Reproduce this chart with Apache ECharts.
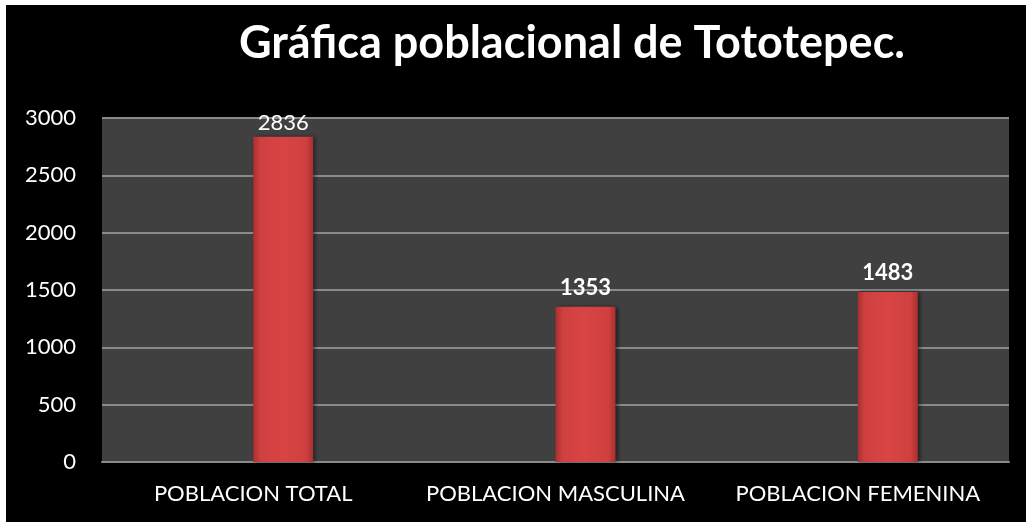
<!DOCTYPE html>
<html>
<head>
<meta charset="utf-8">
<script src="https://cdn.jsdelivr.net/npm/echarts@6/dist/echarts.min.js"></script>
<style>
  html, body { margin: 0; padding: 0; background: #fff; }
  #chart { position: absolute; left: 6px; top: 5px; width: 1020px; height: 517px; background: #000; }
</style>
</head>
<body>
<div id="chart"></div>
<script>
// datos de la gráfica
const categorias = ['POBLACION TOTAL', 'POBLACION MASCULINA', 'POBLACION FEMENINA']
const poblacion = [2836, 1353, 1483]
const vacia = [null, null, null]
const titulo = 'Gráfica poblacional de Tototepec.'

const chart = echarts.init(document.getElementById('chart'))

const barColor = new echarts.graphic.LinearGradient(0, 0, 1, 0, [
  { offset: 0, color: '#a92f2f' },
  { offset: 0.12, color: '#cf4040' },
  { offset: 0.5, color: '#d94444' },
  { offset: 0.88, color: '#cf4040' },
  { offset: 1, color: '#a92f2f' }
])

const option = {
  backgroundColor: '#000',
  animation: false,
  title: {
    text: titulo,
    left: 561,
    top: 11,
    textAlign: 'center',
    textStyle: { color: '#fff', fontFamily: 'Lato', fontWeight: 'bold', fontSize: 45 }
  },
  grid: { left: 96, right: 17, top: 113, bottom: 60, backgroundColor: '#404040', show: true, borderWidth: 0 },
  xAxis: {
    type: 'category',
    data: categorias,
    axisLine: { lineStyle: { color: '#8a8a8a', width: 2 } },
    axisTick: { show: false },
    axisLabel: { color: '#fff', fontFamily: 'Lato', fontSize: 22, margin: 21, interval: 0, hideOverlap: false }
  },
  yAxis: {
    type: 'value',
    min: 0,
    max: 3000,
    interval: 500,
    axisLine: { show: false },
    axisTick: { show: false },
    splitLine: { lineStyle: { color: '#8a8a8a', width: 2 } },
    axisLabel: { color: '#fff', fontFamily: 'Lato', fontSize: 22, margin: 26, formatter: v => String(v) }
  },
  series: [
    { type: 'bar', data: vacia, barWidth: 60, barGap: '0%' },
    {
      type: 'bar',
      barWidth: 60,
      barGap: '0%',
      data: poblacion.map((v, i) => ({
        value: v,
        label: i === 0
          ? { distance: 3, fontWeight: 'normal' }
          : { distance: 8, fontWeight: 'bold' }
      })),
      itemStyle: { color: barColor, shadowColor: 'rgba(0,0,0,0.5)', shadowBlur: 4, shadowOffsetX: 2 },
      label: { show: true, position: 'top', color: '#fff', fontFamily: 'Lato', fontSize: 22 }
    }
  ]
}

chart.setOption(option)
</script>
</body>
</html>
